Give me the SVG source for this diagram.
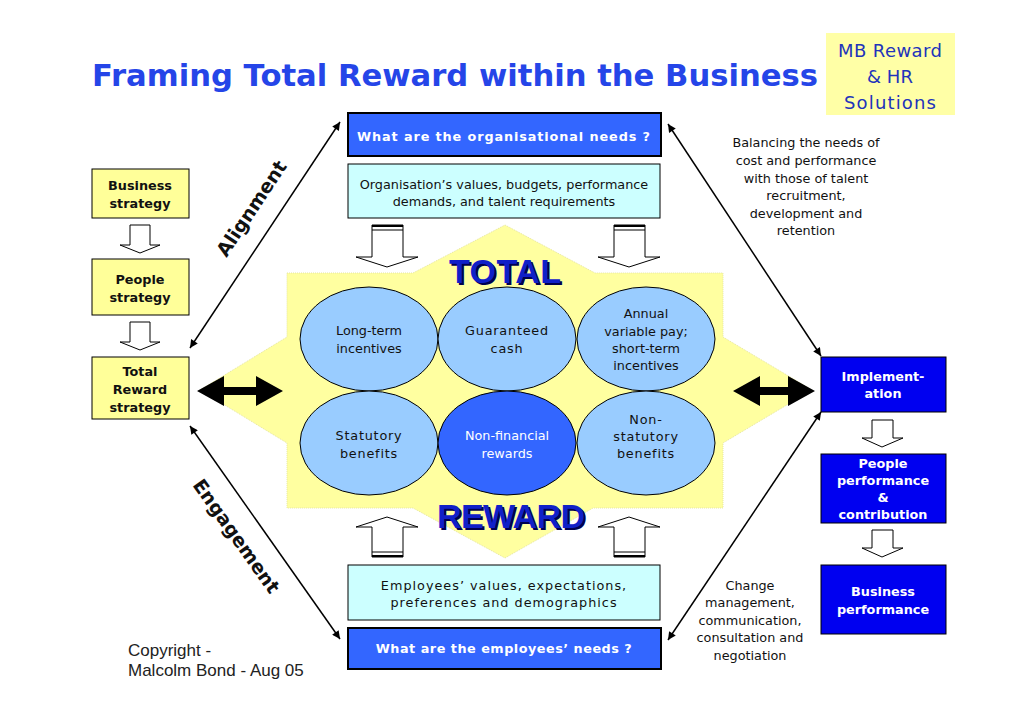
<svg xmlns="http://www.w3.org/2000/svg" width="1030" height="728" viewBox="0 0 1030 728">
<defs>
<marker id="ah" viewBox="0 0 10 10" refX="10" refY="5" markerWidth="10" markerHeight="8" markerUnits="userSpaceOnUse" orient="auto-start-reverse">
<path d="M0,0 L10,5 L0,10 z" fill="#000"/>
</marker>
<style>
.t{font-family:"DejaVu Sans",Verdana,sans-serif;font-size:12.8px;fill:#111;text-anchor:middle}
.b{font-weight:bold}
.w{fill:#fff}
.ybox{fill:#FFFF99;stroke:#000;stroke-width:1}
.bbox{fill:#0000F0;stroke:#000;stroke-width:1}
.qbox{fill:#3366FF;stroke:#000;stroke-width:2}
.cbox{fill:#CCFFFF;stroke:#000;stroke-width:1}
.ell{fill:#99CCFF;stroke:#000;stroke-width:1}
.hollow{fill:#fff;stroke:#000;stroke-width:1}
.diag{stroke:#000;stroke-width:1.5;fill:none;marker-start:url(#ah);marker-end:url(#ah)}
.big{font-family:"Liberation Sans",Arial,sans-serif;font-weight:bold;font-size:34px;text-anchor:middle}
.mb{font-family:"DejaVu Sans",sans-serif;font-size:18px;fill:#2233BB;text-anchor:middle}
</style>
</defs>
<rect width="1030" height="728" fill="#fff"/>

<!-- Title -->
<text x="92" y="86" font-family="DejaVu Sans,Verdana,sans-serif" font-weight="bold" font-size="30" fill="#2545E8" textLength="726" lengthAdjust="spacingAndGlyphs">Framing Total Reward within the Business</text>

<g id="mb-logo">
<rect x="826" y="33" width="129" height="82" fill="#FFFFA6"/>
<text class="mb" x="890" y="57" textLength="104">MB Reward</text>
<text class="mb" x="890" y="83">&amp; HR</text>
<text class="mb" x="890" y="109" textLength="92">Solutions</text>
</g>

<!-- central star -->
<g id="total-reward-star">
<polygon points="287,273 413,273 505,225 595,273 723,273 723,337 812,390 723,443 723,508 593,508 505,558 413,508 287,508 287,443 200,390 287,337" fill="#FFFFA0" stroke="#E6E6A0" stroke-width="1" stroke-dasharray="1,1"/>
<text class="big" x="507" y="285" fill="#000050" textLength="112">TOTAL</text>
<text class="big" x="505" y="283" fill="#1020C8" textLength="112">TOTAL</text>
<text class="big" x="513" y="530" fill="#000050" textLength="148">REWARD</text>
<text class="big" x="511" y="528" fill="#1020C8" textLength="148">REWARD</text>
</g>

<g id="ellipse-ltip">
<ellipse class="ell" cx="369" cy="339" rx="69" ry="52"/>
<text class="t" x="369" y="335">Long-term</text>
<text class="t" x="369" y="353">incentives</text>
</g>
<g id="ellipse-cash">
<ellipse class="ell" cx="507" cy="339" rx="69" ry="52"/>
<text class="t" x="507" y="335" letter-spacing="0.8">Guaranteed</text>
<text class="t" x="507" y="353" letter-spacing="0.8">cash</text>
</g>
<g id="ellipse-annual">
<ellipse class="ell" cx="646" cy="339" rx="69" ry="52"/>
<text class="t" x="646" y="318">Annual</text>
<text class="t" x="646" y="336">variable pay;</text>
<text class="t" x="646" y="353">short-term</text>
<text class="t" x="646" y="370">incentives</text>
</g>
<g id="ellipse-statutory">
<ellipse class="ell" cx="369" cy="443" rx="69" ry="52"/>
<text class="t" x="369" y="440" letter-spacing="0.8">Statutory</text>
<text class="t" x="369" y="458" letter-spacing="0.8">benefits</text>
</g>
<g id="ellipse-nonfinancial">
<ellipse cx="507" cy="443" rx="69" ry="52" fill="#3366FF" stroke="#000" stroke-width="1"/>
<text class="t w" x="507" y="440">Non-financial</text>
<text class="t w" x="507" y="458">rewards</text>
</g>
<g id="ellipse-nonstatutory">
<ellipse class="ell" cx="646" cy="443" rx="69" ry="52"/>
<text class="t" x="646" y="424" letter-spacing="0.8">Non-</text>
<text class="t" x="646" y="441" letter-spacing="0.8">statutory</text>
<text class="t" x="646" y="458" letter-spacing="0.8">benefits</text>
</g>

<!-- top boxes -->
<g id="org-needs">
<rect class="qbox" x="348" y="113" width="313" height="43"/>
<text class="t b w" x="504" y="141" letter-spacing="1" textLength="294">What are the organisational needs ?</text>
</g>
<g id="org-values">
<rect class="cbox" x="348" y="164" width="312" height="54"/>
<text class="t" x="504" y="189">Organisation’s values, budgets, performance</text>
<text class="t" x="504" y="206">demands, and talent requirements</text>
</g>

<!-- bottom boxes -->
<g id="emp-values">
<rect class="cbox" x="348" y="565" width="312" height="55"/>
<text class="t" x="504" y="590" letter-spacing="1">Employees’ values, expectations,</text>
<text class="t" x="504" y="607" letter-spacing="1">preferences and demographics</text>
</g>
<g id="emp-needs">
<rect class="qbox" x="348" y="628" width="313" height="41"/>
<text class="t b w" x="504" y="653" letter-spacing="0.5">What are the employees’ needs ?</text>
</g>

<!-- left column -->
<g id="business-strategy">
<rect class="ybox" x="92" y="169" width="97" height="49"/>
<text class="t b" x="140" y="190">Business</text>
<text class="t b" x="140" y="208">strategy</text>
</g>
<g id="people-strategy">
<rect class="ybox" x="92" y="259" width="97" height="56"/>
<text class="t b" x="140" y="284">People</text>
<text class="t b" x="140" y="302">strategy</text>
</g>
<g id="total-reward-strategy">
<rect class="ybox" x="92" y="357" width="97" height="62"/>
<text class="t b" x="140" y="376">Total</text>
<text class="t b" x="140" y="394">Reward</text>
<text class="t b" x="140" y="412">strategy</text>
</g>

<!-- right column -->
<g id="implementation">
<rect class="bbox" x="821" y="357" width="125" height="55"/>
<text class="t b w" x="883" y="381">Implement-</text>
<text class="t b w" x="883" y="398">ation</text>
</g>
<g id="people-performance">
<rect class="bbox" x="821" y="454" width="125" height="69"/>
<text class="t b w" x="883" y="468">People</text>
<text class="t b w" x="883" y="485">performance</text>
<text class="t b w" x="883" y="502">&amp;</text>
<text class="t b w" x="883" y="519">contribution</text>
</g>
<g id="business-performance">
<rect class="bbox" x="821" y="565" width="125" height="69"/>
<text class="t b w" x="883" y="596">Business</text>
<text class="t b w" x="883" y="614">performance</text>
</g>

<!-- annotations -->
<g id="balancing-note">
<text class="t" x="806" y="147">Balancing the needs of</text>
<text class="t" x="806" y="165">cost and performance</text>
<text class="t" x="806" y="183">with those of talent</text>
<text class="t" x="806" y="200">recruitment,</text>
<text class="t" x="806" y="218">development and</text>
<text class="t" x="806" y="235">retention</text>
</g>
<g id="change-note">
<text class="t" x="750" y="590">Change</text>
<text class="t" x="750" y="607">management,</text>
<text class="t" x="750" y="625">communication,</text>
<text class="t" x="750" y="642">consultation and</text>
<text class="t" x="750" y="660">negotiation</text>
</g>
<g id="copyright">
<text x="128" y="656" font-family="Liberation Sans,Arial,sans-serif" font-size="17" fill="#222">Copyright -</text>
<text x="128" y="676" font-family="Liberation Sans,Arial,sans-serif" font-size="17" fill="#222">Malcolm Bond - Aug 05</text>
</g>

<text transform="translate(257,212) rotate(-56.4)" font-family="DejaVu Sans,Verdana,sans-serif" font-weight="bold" font-size="19" text-anchor="middle" fill="#111">Alignment</text>
<text transform="translate(231,540) rotate(54.7)" font-family="DejaVu Sans,Verdana,sans-serif" font-weight="bold" font-size="19" text-anchor="middle" fill="#111">Engagement</text>

<!-- connectors -->
<g id="connectors">
<line class="diag" x1="340" y1="122" x2="190" y2="348"/>
<line class="diag" x1="668" y1="124" x2="821" y2="356"/>
<line class="diag" x1="190" y1="426" x2="340" y2="639"/>
<line class="diag" x1="668" y1="640" x2="821" y2="412"/>

<polygon points="197,391 224,376 224,387 256,387 256,376 283,391 256,406 256,395 224,395 224,406" fill="#000"/>
<polygon points="733,391 760,376 760,387 788,387 788,376 815,391 788,406 788,395 760,395 760,406" fill="#000"/>

<polygon class="hollow" points="130,225 150,225 150,245 160,245 140,253 120,245 130,245"/>
<polygon class="hollow" points="130,322 150,322 150,342 160,342 140,350 120,342 130,342"/>
<polygon class="hollow" points="872,420 893,420 893,438 903,438 882,447 862,438 872,438"/>
<polygon class="hollow" points="872,530 893,530 893,548 903,548 882,557 862,548 872,548"/>

<polygon class="hollow" points="372,225 403,225 403,257 418,257 387,267 356,257 372,257"/>
<line x1="372" y1="226" x2="403" y2="226" stroke="#000" stroke-width="2"/>
<line x1="372" y1="230" x2="403" y2="230" stroke="#000" stroke-width="1"/>
<polygon class="hollow" points="614,225 645,225 645,257 660,257 629,267 598,257 614,257"/>
<line x1="614" y1="226" x2="645" y2="226" stroke="#000" stroke-width="2"/>
<line x1="614" y1="230" x2="645" y2="230" stroke="#000" stroke-width="1"/>

<polygon class="hollow" points="372,557 403,557 403,527 418,527 387,517 356,527 372,527"/>
<line x1="372" y1="556" x2="403" y2="556" stroke="#000" stroke-width="2"/>
<line x1="372" y1="552" x2="403" y2="552" stroke="#000" stroke-width="1"/>
<polygon class="hollow" points="614,557 645,557 645,527 660,527 629,517 598,527 614,527"/>
<line x1="614" y1="556" x2="645" y2="556" stroke="#000" stroke-width="2"/>
<line x1="614" y1="552" x2="645" y2="552" stroke="#000" stroke-width="1"/>
</g>
</svg>
